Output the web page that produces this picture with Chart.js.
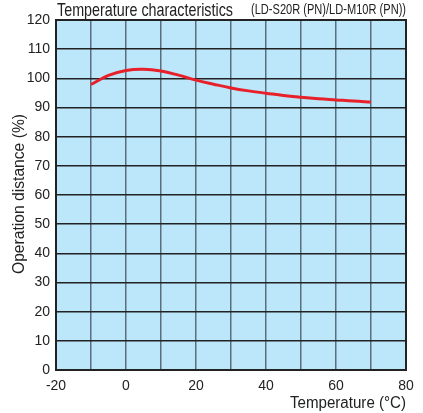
<!DOCTYPE html>
<html><head><meta charset="utf-8">
<script src="https://cdn.jsdelivr.net/npm/chart.js@4"></script>
<style>html,body{margin:0;padding:0;background:#fff}#wrap{width:423px;height:413px}</style>
</head><body><div id="wrap"><canvas id="c" width="423" height="413"></canvas></div>
<script>
const temps = [-10,-5,0,5,10,15,20,25,30,35,40,45,50,55,60,65,70];
const distance = [97.9,101.0,102.7,103.1,102.5,101.1,99.4,98.0,96.7,95.7,94.9,94.1,93.5,93.0,92.6,92.2,91.9];
const xLabels = [-20,0,20,40,60,80];
const yTicks = [0,10,20,30,40,50,60,70,80,90,100,110,120];
const FONT = '"Liberation Sans", Arial, sans-serif';

const bgPlugin = {
  id:'bg',
  beforeDraw(chart){
    const {ctx, chartArea:a} = chart;
    ctx.save(); ctx.fillStyle='#bce6fa'; ctx.fillRect(a.left,a.top,a.right-a.left,a.bottom-a.top); ctx.restore();
  },
  afterDraw(chart){
    const {ctx, chartArea:a} = chart;
    ctx.save();
    ctx.strokeStyle='#222'; ctx.lineWidth=2;
    ctx.strokeRect(a.left,a.top,a.right-a.left,a.bottom-a.top);
    ctx.fillStyle='#222';
    ctx.textBaseline='alphabetic';
    ctx.font='19px '+FONT; ctx.textAlign='left';
    ctx.fillText('Temperature characteristics', 57, 15.5, 176);
    ctx.font='15.5px '+FONT; ctx.textAlign='right';
    ctx.fillText('(LD-S20R (PN)/LD-M10R (PN))', 406, 13.5, 155);
    ctx.font='16px '+FONT; ctx.textAlign='right';
    ctx.fillText('Temperature (\u00B0C)', 406, 408, 116);
    ctx.textBaseline='middle';
    ctx.translate(20,194); ctx.rotate(-Math.PI/2); ctx.textAlign='center';
    ctx.fillText('Operation distance (%)', 0, 0, 160);
    ctx.restore();
  }
};

new Chart(document.getElementById('c'), {
  type:'scatter',
  data:{datasets:[{
    data: temps.map((t,i)=>({x:t,y:distance[i]})),
    showLine:true, borderColor:'#e8202a', borderWidth:3, pointRadius:0, tension:0.4, fill:false
  }]},
  options:{
    responsive:false, animation:false, devicePixelRatio:1,
    layout:{padding:{left:0,right:17,top:20,bottom:0}},
    plugins:{legend:{display:false},tooltip:{enabled:false}},
    scales:{
      x:{type:'linear',min:-20,max:80,
        afterFit(s){s.height=43;},
        afterBuildTicks(s){s.ticks=[];for(let v=-20;v<=80;v+=10)s.ticks.push({value:v});},
        ticks:{autoSkip:false,maxRotation:0,padding:8,color:'#222',font:{family:FONT,size:14},
          callback:(v)=>xLabels.includes(v)?String(v):''},
        grid:{color:'#5a6e7e',lineWidth:1.5,drawTicks:false},
        border:{display:false}
      },
      y:{min:0,max:120,
        afterFit(s){s.width=56;},
        afterBuildTicks(s){s.ticks=yTicks.map(v=>({value:v}));},
        ticks:{autoSkip:false,padding:6,color:'#222',font:{family:FONT,size:14}},
        grid:{color:'#222',lineWidth:1.5,drawTicks:false},
        border:{display:false}
      }
    }
  },
  plugins:[bgPlugin]
});
</script></body></html>
